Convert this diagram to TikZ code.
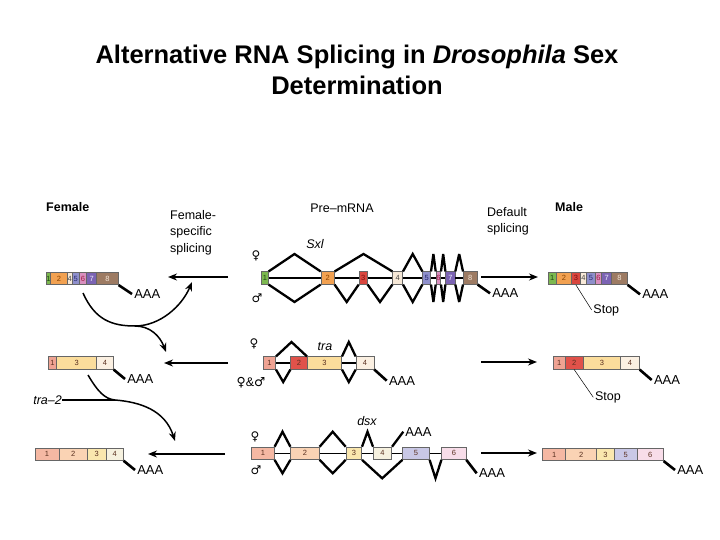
\documentclass[tikz,border=0pt]{standalone}
\usepackage{fontspec}
\setmainfont{Liberation Sans}
\newfontfamily\symfont{DejaVu Sans}
\usetikzlibrary{arrows.meta}
\definecolor{sxlA}{HTML}{7CB84F}\definecolor{sxlAt}{HTML}{1F4A10}
\definecolor{sxlB}{HTML}{F2A151}\definecolor{sxlBt}{HTML}{8A4300}
\definecolor{sxlC}{HTML}{D9463E}\definecolor{sxlCt}{HTML}{7A1010}
\definecolor{sxlD}{HTML}{F7E9D8}\definecolor{sxlDt}{HTML}{444444}
\definecolor{sxlE}{HTML}{8E8FCB}\definecolor{sxlEt}{HTML}{262670}
\definecolor{sxlF}{HTML}{D98FBF}\definecolor{sxlFt}{HTML}{A01A40}
\definecolor{sxlG}{HTML}{7B63B3}\definecolor{sxlGt}{HTML}{F0F0FF}
\definecolor{sxlH}{HTML}{9D7B63}\definecolor{sxlHt}{HTML}{F5E6D8}
\definecolor{traA}{HTML}{EFA393}\definecolor{traB}{HTML}{E0524A}
\definecolor{traC}{HTML}{FBDD9C}\definecolor{traD}{HTML}{FBF0E2}
\definecolor{dsxA}{HTML}{F5B8A3}\definecolor{dsxB}{HTML}{FAD3B4}
\definecolor{dsxC}{HTML}{FAE7AE}\definecolor{dsxD}{HTML}{F6F1DF}
\definecolor{dsxE}{HTML}{C9C8E6}\definecolor{dsxF}{HTML}{F8DDE9}
\definecolor{numt}{HTML}{5A3020}
\newcommand{\exon}[7]{\node[exon,fill=#5,text=#7,minimum width={(#3-#2)*1pt}] (#1) at ({(#2+#3)/2},#4) {#6};}
\begin{document}
\begin{tikzpicture}[x=1pt,y=-1pt,
  exon/.style={draw=black!60, line width=0.6pt, inner sep=0pt, minimum height=12.5pt, font=\fontsize{7.5}{7.5}\selectfont},
  splice/.style={line width=2.3pt, line join=miter, miter limit=4},
  bb/.style={line width=1.4pt},
  tail/.style={line width=2.6pt},
  arr/.style={line width=1.5pt, -{Stealth[length=9pt,width=7pt]}},
  lab/.style={font=\fontsize{12.5}{16.5}\selectfont, inner sep=0pt},
  hdr/.style={font=\bfseries\fontsize{12.5}{15}\selectfont, inner sep=0pt},
  aaa/.style={font=\fontsize{13}{13}\selectfont, inner sep=0pt, anchor=west, xshift=1pt},
  sym/.style={font=\symfont\fontsize{12}{12}\selectfont, inner sep=0pt},
  stopl/.style={line width=0.5pt},
  ttl/.style={font=\bfseries\fontsize{25.5}{30}\selectfont, inner sep=0pt, anchor=base}
]
\fill[white] (0,0) rectangle (720,540);
\useasboundingbox (0,0) rectangle (720,540);

% title
\node[ttl] (t1) at (357,64) {Alternative RNA Splicing in \textit{Drosophila} Sex};
\node[ttl] (t2) at (357,95) {Determination};

% headers
\node[hdr,anchor=west] (hF) at (46,207) {Female};
\node[lab,anchor=north west,align=left] (hFs) at (170,210) {Female-\\specific\\splicing};
\node[lab] (hP) at (342,208) {Pre–mRNA};
\node[lab,anchor=north west,align=left] (hD) at (487,207) {Default\\splicing};
\node[hdr,anchor=west] (hM) at (555,207) {Male};

% ===== Sxl =====
\exon{fs1}{46}{50.7}{278.5}{sxlA}{1}{sxlAt}
\exon{fs2}{50.7}{67.3}{278.5}{sxlB}{2}{sxlBt}
\exon{fs4}{67.3}{72.3}{278.5}{sxlD}{4}{sxlDt}
\exon{fs5}{72.3}{79.3}{278.5}{sxlE}{5}{sxlEt}
\exon{fs6}{79.3}{86.7}{278.5}{sxlF}{6}{sxlFt}
\exon{fs7}{86.7}{96.7}{278.5}{sxlG}{7}{sxlGt}
\exon{fs8}{96.7}{118.3}{278.5}{sxlH}{8}{sxlHt}
\draw[tail] (fs8.south east) -- (132,294) node[aaa] (aFS) {AAA};

\exon{p1}{261.7}{268.3}{278}{sxlA}{1}{sxlAt}
\exon{p2}{321}{334.3}{278}{sxlB}{2}{sxlBt}
\exon{p3}{359}{367.3}{278}{sxlC}{3}{sxlCt}
\exon{p4}{392.7}{402.7}{278}{sxlD}{4}{sxlDt}
\exon{p5}{422.7}{430.7}{278}{sxlE}{5}{sxlEt}
\exon{p6}{436}{440.7}{278}{sxlF}{6}{sxlFt}
\exon{p7}{445.7}{455}{278}{sxlG}{7}{sxlGt}
\exon{p8}{463.3}{477.3}{278}{sxlH}{8}{sxlHt}
\foreach \a/\b in {p1/p2,p2/p3,p3/p4,p4/p5,p5/p6,p6/p7,p7/p8}
  \draw[bb] (\a.east) -- (\b.west);
% female (above)
\draw[splice] (p1.north east) -- (294.5,254) -- (p2.north west);
\draw[splice] (p2.north east) -- (363.5,254) -- (p4.north west);
\draw[splice] (p4.north east) -- (412.7,254) -- (p5.north west);
\draw[splice] (p5.north east) -- (433.4,254) -- (p6.north west);
\draw[splice] (p6.north east) -- (443.2,254) -- (p7.north west);
\draw[splice] (p7.north east) -- (459.2,254) -- (p8.north west);
% male (below)
\draw[splice] (p1.south east) -- (294.5,302) -- (p2.south west);
\draw[splice] (p2.south east) -- (346.7,302) -- (p3.south west);
\draw[splice] (p3.south east) -- (380,302) -- (p4.south west);
\draw[splice] (p4.south east) -- (412.7,302) -- (p5.south west);
\draw[splice] (p5.south east) -- (433.4,302) -- (p6.south west);
\draw[splice] (p6.south east) -- (443.2,302) -- (p7.south west);
\draw[splice] (p7.south east) -- (459.2,302) -- (p8.south west);
\draw[tail] (p8.south east) -- (490,293.3) node[aaa] (aP) {AAA};
\node[lab,font=\itshape\fontsize{12.5}{15}\selectfont] (sxl) at (315,244) {Sxl};
\node[sym] (sxlF) at (256,256) {♀};
\node[sym] (sxlM) at (257,298) {♂};

\exon{m1}{548.3}{556}{278.3}{sxlA}{1}{sxlAt}
\exon{m2}{556}{571.7}{278.3}{sxlB}{2}{sxlBt}
\exon{m3}{571.7}{580}{278.3}{sxlC}{3}{sxlCt}
\exon{m4}{580}{586.7}{278.3}{sxlD}{4}{sxlDt}
\exon{m5}{586.7}{595}{278.3}{sxlE}{5}{sxlEt}
\exon{m6}{595}{601.7}{278.3}{sxlF}{6}{sxlFt}
\exon{m7}{601.7}{611.7}{278.3}{sxlG}{7}{sxlGt}
\exon{m8}{611.7}{627.3}{278.3}{sxlH}{8}{sxlHt}
\draw[tail] (m8.south east) -- (640,294.3) node[aaa] (aM) {AAA};
\draw[stopl] (m3.south) -- (591.7,310) node[lab,anchor=west,xshift=1.5pt] (stop1) {Stop};

\coordinate (sRa) at (481,277);
\coordinate (sRb) at (538,277);
\coordinate (sLa) at (228,277);
\coordinate (sLb) at (168,277);
\draw[arr] (sRa) -- (sRb);
\draw[arr] (sLa) -- (sLb);

% ===== tra =====
\exon{ft1}{48.3}{56.7}{363}{traA}{1}{numt}
\exon{ft3}{56.7}{96.7}{363}{traC}{3}{numt}
\exon{ft4}{96.7}{113.3}{363}{traD}{4}{numt}
\draw[tail] (ft4.south east) -- (125,379) node[aaa] (aFT) {AAA};

\exon{q1}{263.3}{275.7}{363}{traA}{1}{numt}
\exon{q2}{290.7}{307.3}{363}{traB}{2}{numt}
\exon{q3}{307.3}{341.7}{363}{traC}{3}{numt}
\exon{q4}{356}{374}{363}{traD}{4}{numt}
\draw[bb] (q1.east) -- (q2.west);
\draw[bb] (q3.east) -- (q4.west);
\draw[splice] (q1.north east) -- (291.5,342) -- (q3.north west);
\draw[splice] (q1.south east) -- (283.2,382) -- (q2.south west);
\draw[splice] (q3.north east) -- (348.8,342) -- (q4.north west);
\draw[splice] (q3.south east) -- (348.8,382) -- (q4.south west);
\draw[tail] (q4.south east) -- (386.7,380.7) node[aaa] (aQ) {AAA};
\node[lab,font=\itshape\fontsize{12.5}{15}\selectfont] (tra) at (325,347) {tra};
\node[sym] (traF) at (254,344) {♀};
\node[lab] (traFM) at (251,383) {{\symfont ♀}\&{\symfont ♂}};

\exon{mt1}{553.3}{565}{363}{traA}{1}{numt}
\exon{mt2}{565}{583.3}{363}{traB}{2}{numt}
\exon{mt3}{583.3}{620.7}{363}{traC}{3}{numt}
\exon{mt4}{620.7}{639.3}{363}{traD}{4}{numt}
\draw[tail] (mt4.south east) -- (651.7,380) node[aaa] (aMT) {AAA};
\draw[stopl] (mt2.south) -- (593.3,397.3) node[lab,anchor=west,xshift=1.5pt] (stop2) {Stop};

\coordinate (tRa) at (481,362);
\coordinate (tRb) at (537,362);
\coordinate (tLa) at (228,363);
\coordinate (tLb) at (164,363);
\draw[arr] (tRa) -- (tRb);
\draw[arr] (tLa) -- (tLb);

% ===== dsx =====
\exon{fd1}{35}{59}{454.2}{dsxA}{1}{numt}
\exon{fd2}{59}{87.3}{454.2}{dsxB}{2}{numt}
\exon{fd3}{87.3}{106}{454.2}{dsxC}{3}{numt}
\exon{fd4}{106}{123.3}{454.2}{dsxD}{4}{numt}
\draw[tail] (fd4.south east) -- (135,470) node[aaa] (aFD) {AAA};

\exon{d1}{251.7}{274.3}{453.3}{dsxA}{1}{numt}
\exon{d2}{290.7}{319.3}{453.3}{dsxB}{2}{numt}
\exon{d3}{346}{361.7}{453.3}{dsxC}{3}{numt}
\exon{d4}{373.3}{391.7}{453.3}{dsxD}{4}{numt}
\exon{d5}{402.7}{429.3}{453.3}{dsxE}{5}{numt}
\exon{d6}{441.7}{466}{453.3}{dsxF}{6}{numt}
\foreach \a/\b in {d1/d2,d2/d3,d3/d4,d4/d5,d5/d6}
  \draw[bb] (\a.east) -- (\b.west);
\draw[splice] (d1.north east) -- (282.5,431.7) -- (d2.north west);
\draw[splice] (d2.north east) -- (332.7,431.7) -- (d3.north west);
\draw[splice] (d3.north east) -- (367.5,431.7) -- (d4.north west);
\draw[splice] (d4.north east) -- (403.3,431.7) node[aaa] (aDF) {AAA};
\draw[splice] (d1.south east) -- (282.5,473.3) -- (d2.south west);
\draw[splice] (d2.south east) -- (332.7,473.3) -- (d3.south west);
\draw[splice] (d3.south east) -- (382.2,478.3) -- (d5.south west);
\draw[splice] (d5.south east) -- (435.5,478.3) -- (d6.south west);
\draw[tail] (d6.south east) -- (476.7,473.3) node[aaa] (aDM) {AAA};
\node[lab,font=\itshape\fontsize{12.5}{15}\selectfont] (dsx) at (367,421) {dsx};
\node[sym] (dsxF) at (255,436.7) {♀};
\node[sym] (dsxM) at (256,470) {♂};

\exon{md1}{542.7}{565.7}{454.5}{dsxA}{1}{numt}
\exon{md2}{565.7}{596.7}{454.5}{dsxB}{2}{numt}
\exon{md3}{596.7}{614}{454.5}{dsxC}{3}{numt}
\exon{md5}{614}{637.3}{454.5}{dsxE}{5}{numt}
\exon{md6}{637.3}{663.3}{454.5}{dsxF}{6}{numt}
\draw[tail] (md6.south east) -- (675,470) node[aaa] (aMD) {AAA};

\coordinate (dRa) at (481,453);
\coordinate (dRb) at (537,453);
\coordinate (dLa) at (225,454);
\coordinate (dLb) at (148,454);
\draw[arr] (dRa) -- (dRb);
\draw[arr] (dLa) -- (dLb);

% ===== regulatory curves =====
\coordinate (loopS) at (83,293);
\coordinate (loopB) at (135,326);
\coordinate (loopE) at (192,282);
\coordinate (brE) at (166,352);
\draw[arr] (loopS) .. controls (95,320) and (112,326) .. (loopB) .. controls (160,326) and (182,306) .. (loopE);
\draw[arr] (loopB) .. controls (150,326) and (160,336) .. (brE);

\coordinate (t2S) at (88,375);
\coordinate (t2M) at (115,400);
\coordinate (t2E) at (175,441);
\node[lab,font=\itshape\fontsize{12.5}{15}\selectfont,anchor=east] (tra2) at (62,400) {tra–2};
\draw[line width=1.5pt] (tra2.east) -- (t2M);
\draw[arr] (t2S) .. controls (98,392) and (105,399) .. (t2M) .. controls (140,402) and (165,410) .. (t2E);
\end{tikzpicture}
\end{document}
